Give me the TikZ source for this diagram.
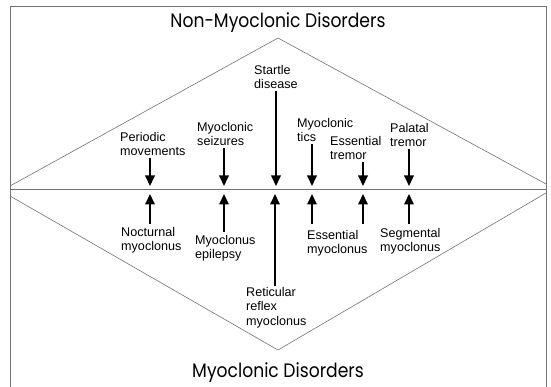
\documentclass[tikz,border=0pt]{standalone}
\usepackage{fontspec}
\setmainfont{Liberation Sans}
\newfontfamily\titlefont{Poppins}[FakeStretch=0.88]
\usetikzlibrary{arrows.meta}
\begin{document}
\begin{tikzpicture}[x=1pt,y=-1pt,
  thinline/.style={draw=black!55,line width=0.6pt},
  lbl/.style={anchor=north west,inner sep=0pt,align=left,font=\fontsize{12.6}{14.5}\selectfont},
  ttl/.style={inner sep=0pt,anchor=base,font=\titlefont\fontsize{19.5}{22}\selectfont},
  arr/.style={-{Triangle[width=9.5pt,length=10.5pt]},line width=1.9pt}]
\useasboundingbox (0,0) rectangle (551,387);
\fill[white] (0,0) rectangle (551,387);
% frame
\draw[thinline] (10,392) -- (10,6) -- (546,6) -- (546,392);
% triangles
\draw[thinline] (10,186) -- (278,38) -- (546,184);
\draw[thinline] (10,196) -- (278,350) -- (546,193);
% middle line
\draw[draw=black!55,line width=1pt] (10,190) -- (546,190);
% titles
\node[ttl] (top) at (278,28) {Non-Myoclonic Disorders};
\node[ttl] (bot) at (278,377) {Myoclonic Disorders};
% upper labels
\node[lbl] (pm) at (120,132) {Periodic\\movements};
\node[lbl] (ms) at (197,122) {Myoclonic\\seizures};
\node[lbl] (sd) at (254,65) {Startle\\disease};
\node[lbl] (mt) at (297,118) {Myoclonic\\tics};
\node[lbl] (et) at (330,136) {Essential\\tremor};
\node[lbl] (pt) at (390,123) {Palatal\\tremor};
% lower labels
\node[lbl] (nm) at (121,227) {Nocturnal\\myoclonus};
\node[lbl] (me) at (195,235) {Myoclonus\\epilepsy};
\node[lbl] (rr) at (246,287) {Reticular\\reflex\\myoclonus};
\node[lbl] (em) at (307,230) {Essential\\myoclonus};
\node[lbl] (sm) at (380,228) {Segmental\\myoclonus};
% arrow tips on the middle line
\coordinate (d1) at (150,186);
\coordinate (d2) at (224,186);
\coordinate (d3) at (276,186);
\coordinate (d4) at (312,186);
\coordinate (d5) at (363,186);
\coordinate (d6) at (409,186);
\coordinate (u1) at (150,194);
\coordinate (u2) at (224,194);
\coordinate (u3) at (275,194);
\coordinate (u4) at (312,194);
\coordinate (u5) at (363,194);
\coordinate (u6) at (409,194);
% down arrows
\draw[arr,shorten <=2pt] (pm.south -| d1) -- (d1);
\draw[arr,shorten <=2pt] (ms.south -| d2) -- (d2);
\draw[arr,shorten <=2pt] (sd.south -| d3) -- (d3);
\draw[arr,shorten <=2pt] (mt.south -| d4) -- (d4);
\draw[arr,shorten <=2pt] (et.south -| d5) -- (d5);
\draw[arr,shorten <=2pt] (pt.south -| d6) -- (d6);
% up arrows
\draw[arr,shorten <=3pt] (nm.north -| u1) -- (u1);
\draw[arr,shorten <=3pt] (me.north -| u2) -- (u2);
\draw[arr,shorten <=1pt] (rr.north -| u3) -- (u3);
\draw[arr,shorten <=6pt] (em.north -| u4) -- (u4);
\draw[arr,shorten <=6pt] (em.north -| u5) -- (u5);
\draw[arr,shorten <=4pt] (sm.north -| u6) -- (u6);
\end{tikzpicture}
\end{document}
